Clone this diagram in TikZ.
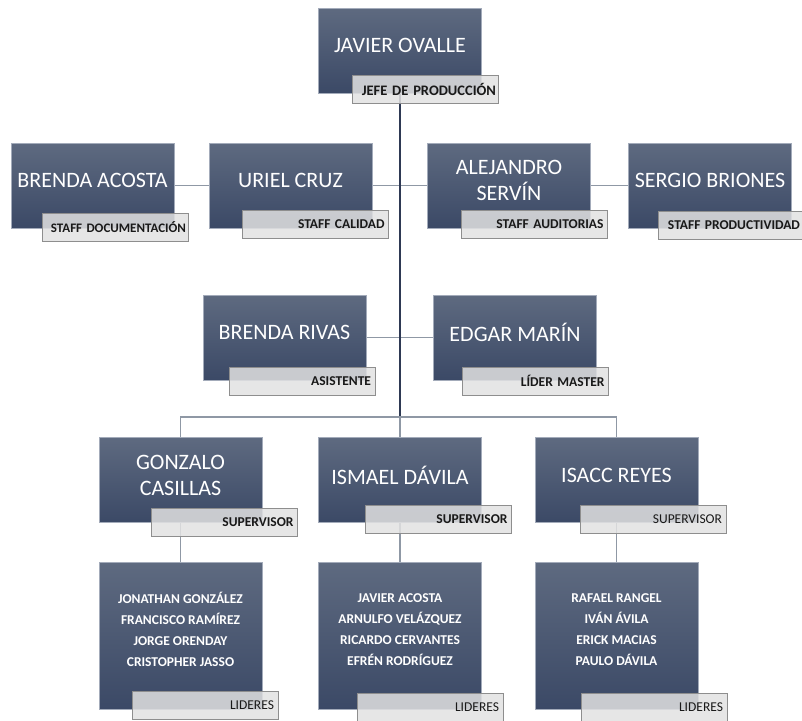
\documentclass[tikz,border=0pt]{standalone}
\usepackage{fontspec}
\setmainfont{Carlito}
\usetikzlibrary{backgrounds}
\definecolor{cajaarriba}{HTML}{5E6A80}
\definecolor{cajamedio}{HTML}{46536E}
\definecolor{cajaabajo}{HTML}{3B4966}
\definecolor{cajaborde}{HTML}{A3ABBA}
\definecolor{cargofondo}{HTML}{E2E2E2}
\definecolor{cargoborde}{HTML}{8E8E8E}
\definecolor{gris}{HTML}{8F98A5}
\definecolor{azul}{HTML}{2E3954}
\tikzset{
  persona/.style={draw=cajaborde,line width=0.8pt,top color=cajaarriba,middle color=cajamedio,bottom color=cajaabajo,minimum width=163pt,minimum height=85pt,inner sep=0pt},
  nombre/.style={yshift=5pt,text=white,align=center,font=\fontsize{22}{26}\selectfont},
  lista/.style={yshift=6pt,text=white,align=center,font=\bfseries\fontsize{13.5}{21}\selectfont},
  cargo/.style={draw=cargoborde,fill=cargofondo,fill opacity=0.85,text opacity=1,line width=0.8pt,text width=138pt,minimum height=28pt,inner sep=4pt,align=right,text=black!90,font=\bfseries\fontsize{13.5}{15}\selectfont},
  ancho/.style={text width=142pt,inner xsep=2pt},
  conector/.style={draw=gris,line width=1.3pt},
  troncal/.style={draw=azul,line width=1.3pt}
}
\begin{document}
\hyphenpenalty=10000
\exhyphenpenalty=10000
\begin{tikzpicture}[x=1pt,y=-1pt]
\useasboundingbox (0,0) rectangle (802,720);
\clip (0,0) rectangle (802,720);
% jefe
\node[persona,label={[nombre]center:JAVIER OVALLE}] (ovalle) at (400,50.5) {};
\node[cargo,ancho,font=\bfseries\fontsize{14.5}{17}\selectfont] (jefe) at (425,89) {JEFE DE PRODUCCIÓN};
% staff
\node[persona,label={[nombre]center:BRENDA ACOSTA}] (acosta) at (92.5,185.5) {};
\node[cargo,ancho,font=\bfseries\fontsize{13}{15}\selectfont] (documentacion) at (115,227) {STAFF DOCUMENTACIÓN};
\node[persona,label={[nombre]center:URIEL CRUZ}] (cruz) at (290.5,185.5) {};
\node[cargo] (calidad) at (315.5,224.5) {STAFF CALIDAD};
\node[persona,label={[nombre]center:ALEJANDRO\\SERVÍN}] (servin) at (509,185.5) {};
\node[cargo] (auditorias) at (534.5,224) {STAFF AUDITORIAS};
\node[persona,label={[nombre]center:SERGIO BRIONES}] (briones) at (710,185.5) {};
\node[cargo] (productividad) at (731,225) {STAFF PRODUCTIVIDAD};
% asistente y lider master
\node[persona,label={[nombre]center:BRENDA RIVAS}] (rivas) at (284.5,337.5) {};
\node[cargo] (asistente) at (302,381) {ASISTENTE};
\node[persona,label={[nombre]center:EDGAR MARÍN}] (marin) at (515,337.5) {};
\node[cargo] (master) at (535.5,381) {LÍDER MASTER};
% supervisores
\node[persona,label={[nombre]center:GONZALO\\CASILLAS}] (casillas) at (180.5,480) {};
\node[cargo] (supA) at (224.5,522.5) {SUPERVISOR};
\node[persona,label={[nombre]center:ISMAEL DÁVILA}] (davila) at (400,480) {};
\node[cargo] (supB) at (438.5,519.5) {SUPERVISOR};
\node[persona,label={[nombre]center:ISACC REYES}] (reyes) at (616.5,480) {};
\node[cargo,font=\fontsize{13.5}{15}\selectfont] (supC) at (653,519.5) {SUPERVISOR};
% lideres
\node[persona,minimum height=147pt,label={[lista]center:JONATHAN GONZÁLEZ\\FRANCISCO RAMÍREZ\\JORGE ORENDAY\\CRISTOPHER JASSO}] (equipoA) at (180.5,635.5) {};
\node[cargo,font=\fontsize{13.5}{15}\selectfont] (lidA) at (205,705) {LIDERES};
\node[persona,minimum height=147pt,label={[lista]center:JAVIER ACOSTA\\ARNULFO VELÁZQUEZ\\RICARDO CERVANTES\\EFRÉN RODRÍGUEZ}] (equipoB) at (400,635.5) {};
\node[cargo,font=\fontsize{13.5}{15}\selectfont] (lidB) at (430,707) {LIDERES};
\node[persona,minimum height=147pt,label={[lista]center:RAFAEL RANGEL\\IVÁN ÁVILA\\ERICK MACIAS\\PAULO DÁVILA}] (equipoC) at (616.5,635.5) {};
\node[cargo,font=\fontsize{13.5}{15}\selectfont] (lidC) at (654,707) {LIDERES};
% conectores
\begin{scope}[on background layer]
\coordinate (bus) at (400,417);
\draw[conector] (acosta.east) -- (cruz.west);
\draw[conector] (cruz.east) -- (servin.west);
\draw[conector] (servin.east) -- (briones.west);
\draw[conector] (rivas.east) -- (marin.west);
\draw[troncal] (ovalle.south) -- (bus);
\draw[conector] (casillas.north) |- (bus) -| (reyes.north);
\draw[conector] (bus) -- (davila.north);
\draw[conector] (casillas.south) -- (equipoA.north);
\draw[conector] (davila.south) -- (equipoB.north);
\draw[conector] (reyes.south) -- (equipoC.north);
\end{scope}
\end{tikzpicture}
\end{document}
